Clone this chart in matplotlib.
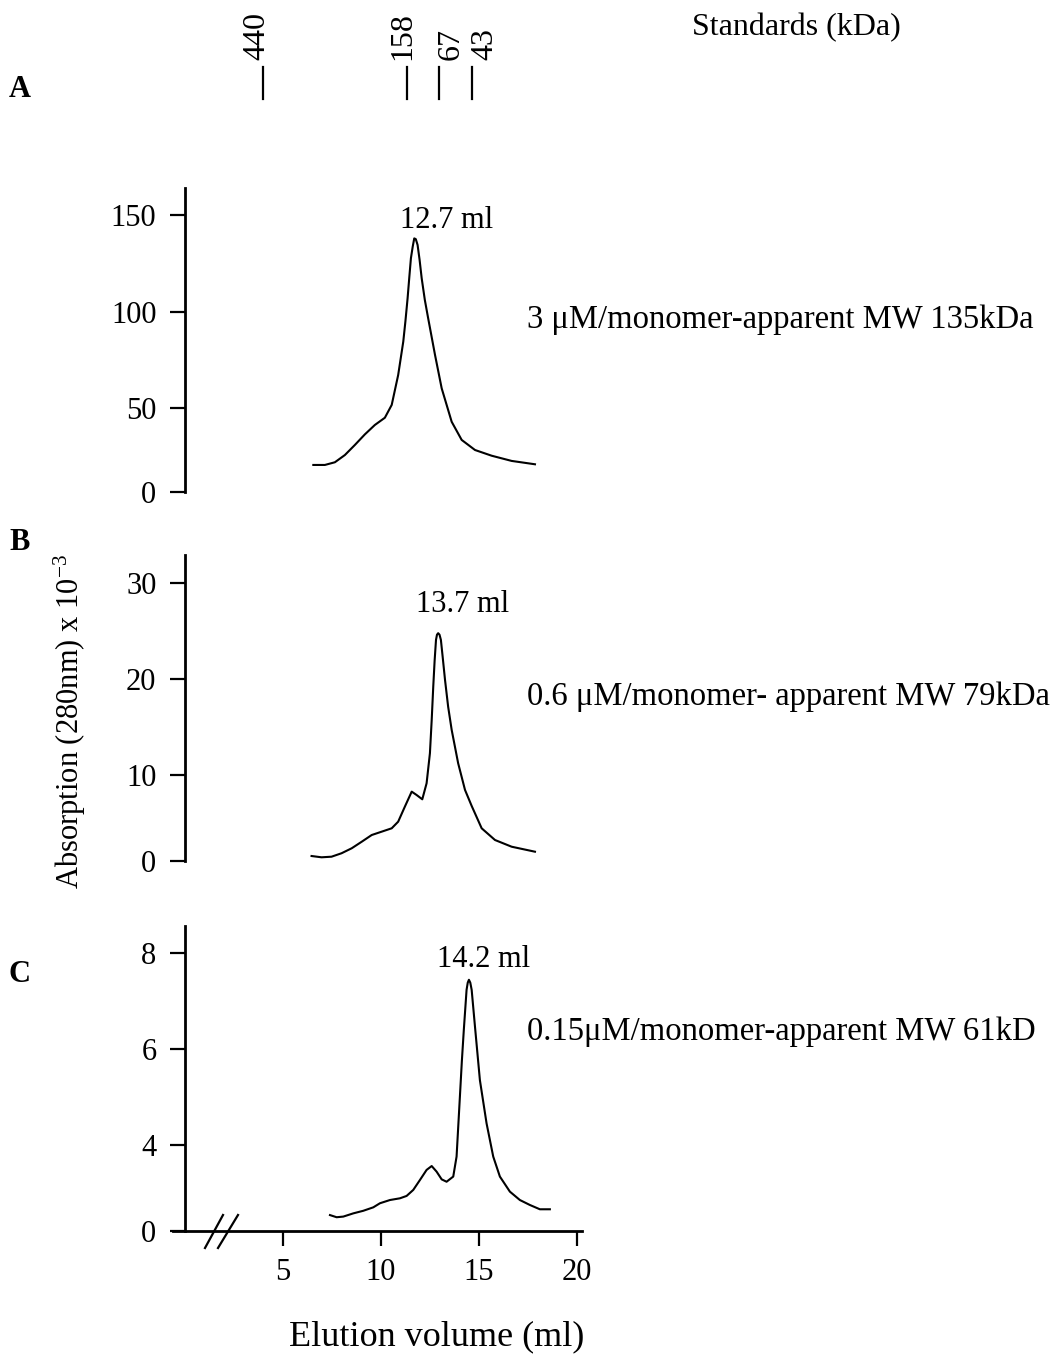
import numpy as np
import matplotlib
matplotlib.use("Agg")
import matplotlib.pyplot as plt
import matplotlib.transforms as mtransforms
from matplotlib.lines import Line2D

plt.rcParams['font.family'] = ['Liberation Serif', 'DejaVu Serif']
plt.rcParams['mathtext.fontset'] = 'custom'
plt.rcParams['mathtext.rm'] = 'Liberation Serif'
plt.rcParams['mathtext.it'] = 'Liberation Serif:italic'
plt.rcParams['mathtext.bf'] = 'Liberation Serif:bold'

# ---------------- data ----------------
vol_a = [6.55, 7.14, 7.65, 8.16, 8.67, 9.18, 9.69, 10.20, 10.55, 10.88, 11.14, 11.25,
         11.36, 11.45, 11.53, 11.62, 11.70, 11.78, 11.87, 11.97, 12.08, 12.24, 12.41,
         12.76, 13.10, 13.61, 14.12, 14.80, 15.65, 16.67, 17.86]
abs_a = [16.1, 16.1, 17.7, 22.0, 28.0, 34.3, 39.9, 44.2, 51.6, 67.1, 84.4, 95.0,
         106.8, 118.0, 127.6, 133.5, 137.9, 137.5, 134.5, 127.0, 117.2, 106.0, 96.5,
         77.5, 60.2, 41.8, 31.0, 25.0, 21.6, 18.5, 16.5]

vol_b = [6.46, 6.97, 7.48, 7.99, 8.51, 9.02, 9.53, 10.04, 10.55, 10.88, 11.22, 11.57,
         11.82, 12.11, 12.33, 12.50, 12.59, 12.67, 12.74, 12.81, 12.86, 12.92, 12.99,
         13.06, 13.15, 13.27, 13.43, 13.61, 13.94, 14.29, 14.63, 15.14, 15.82, 16.67,
         17.86]
abs_b = [0.58, 0.43, 0.50, 0.90, 1.48, 2.24, 3.02, 3.41, 3.80, 4.57, 6.31, 8.06,
         7.67, 7.17, 9.03, 12.26, 15.7, 19.20, 21.9, 24.06, 24.6, 24.76, 24.6,
         24.06, 22.3, 19.90, 17.1, 14.69, 11.22, 8.26, 6.40, 3.80, 2.44, 1.66,
         1.08]

vol_c = [7.40, 7.74, 8.08, 8.59, 9.10, 9.61, 9.95, 10.46, 10.97, 11.31, 11.65, 11.99,
         12.33, 12.59, 12.84, 13.10, 13.35, 13.69, 13.86, 14.03, 14.13, 14.23, 14.37,
         14.43, 14.49, 14.56, 14.63, 14.80, 15.05, 15.39, 15.73, 16.07, 16.58, 17.09,
         17.60, 18.11, 18.62]
abs_c = [0.74, 0.64, 0.67, 0.82, 0.94, 1.10, 1.29, 1.44, 1.52, 1.63, 1.91, 2.37,
         2.84, 3.02, 2.76, 2.40, 2.29, 2.53, 3.46, 5.01, 5.75, 6.40, 7.23,
         7.38, 7.44, 7.38, 7.23, 6.46, 5.35, 4.45, 3.46, 2.53, 1.83, 1.44,
         1.21, 1.01, 1.01]

std_vol = [3.98, 11.33, 12.96, 14.64]
std_kda = ['440', '158', '67', '43']

yticks_a = [0, 50, 100, 150]
yticks_b = [0, 10, 20, 30]
yticks_c = [0, 4, 6, 8]
xticks_c = [5, 10, 15, 20]

peak_labels = ['12.7 ml', '13.7 ml', '14.2 ml']
cond_labels = ['3 \u03bcM/monomer-apparent MW 135kDa',
               '0.6 \u03bcM/monomer- apparent MW 79kDa',
               '0.15\u03bcM/monomer-apparent MW 61kD']
panel_letters = ['A', 'B', 'C']

# ---------------- layout ----------------
W, H = 1063, 1360
fig = plt.figure(figsize=(W / 100, H / 100), dpi=100)


def fx(px):
    return px / W


def fy(py):
    return 1 - py / H


def make_scale(b, k):
    def fwd(y):
        y = np.asarray(y, float)
        return np.where(y < b, y * k, b * k + (y - b))

    def inv(t):
        t = np.asarray(t, float)
        return np.where(t < b * k, t / k, t - b * k + b)
    return fwd, inv


FS = 22
ax_left, ax_right = 173, 582
xlim = (-0.61, 20.26)

# (bottom px, top px, ylim top, break, k)
specs = [
    (492, 188, 164.0, 50, 0.8705),
    (861, 555, 32.9, 10, 0.896),
    (1231, 926, 8.56, 4, 0.448),
]
data = [(vol_a, abs_a, yticks_a), (vol_b, abs_b, yticks_b), (vol_c, abs_c, yticks_c)]

axes = []
for i, ((bot, top, ytop, brk, k), (vx, vy, yt)) in enumerate(zip(specs, data)):
    ax = fig.add_axes([fx(ax_left), fy(bot), (ax_right - ax_left) / W, (bot - top) / H])
    ax.set_yscale('function', functions=make_scale(brk, k))
    ax.plot(vx, vy, color='black', lw=1.5, solid_joinstyle='round')
    ax.set_xlim(*xlim)
    ax.set_ylim(0, ytop)
    ax.set_yticks(yt)
    ax.set_yticklabels([str(t) for t in yt])
    ax.minorticks_off()
    ax.spines['top'].set_visible(False)
    ax.spines['right'].set_visible(False)
    ax.spines['left'].set_position(('data', 0))
    ax.spines['left'].set_linewidth(2.0)
    ax.tick_params(axis='y', direction='out', length=10.5, width=1.6,
                   labelsize=FS, pad=10)
    ax.patch.set_alpha(0)
    if i < 2:
        ax.spines['bottom'].set_visible(False)
        ax.set_xticks([])
    else:
        ax.spines['bottom'].set_linewidth(2.0)
        ax.set_xticks(xticks_c)
        ax.set_xticklabels([str(t) for t in xticks_c])
        ax.tick_params(axis='x', direction='out', length=10.5, width=1.6,
                       labelsize=FS, pad=9)
    axes.append(ax)

# ---------------- standards ----------------
trans = mtransforms.blended_transform_factory(axes[0].transData, fig.transFigure)
label_dx = [-6, -4, 12, 13]  # px offsets of the rotated labels
for v, lab, dx in zip(std_vol, std_kda, label_dx):
    fig.add_artist(Line2D([v, v], [fy(67), fy(99)], transform=trans,
                          color='black', lw=1.6))
    axes[0].annotate(lab, xy=(v, fy(60)), xycoords=trans,
                     xytext=(dx * 0.72, 0), textcoords='offset points',
                     rotation=90, ha='center', va='bottom', fontsize=23)
fig.text(fx(692), fy(35), 'Standards (kDa)', fontsize=23, ha='left', va='baseline')

# ---------------- texts ----------------
letter_y = [97, 550, 982]
for lab, y in zip(panel_letters, letter_y):
    fig.text(fx(9), fy(y), lab, fontsize=22, fontweight='bold', ha='left', va='baseline')

peak_pos = [(447, 228), (463, 612), (484, 967)]
for lab, (x, y) in zip(peak_labels, peak_pos):
    fig.text(fx(x), fy(y), lab, fontsize=FS, ha='center', va='baseline')

cond_y = [328, 705, 1040]
for lab, y in zip(cond_labels, cond_y):
    fig.text(fx(527), fy(y), lab, fontsize=23.5, ha='left', va='baseline')

fig.text(fx(70), fy(722), 'Absorption (280nm) x 10$^{-3}$', fontsize=FS,
         rotation=90, ha='center', va='center')
fig.text(fx(437), fy(1337), 'Elution volume (ml)', fontsize=26, ha='center', va='center')

# axis break marks
for x0, x1 in [(205, 223), (218, 238)]:
    fig.add_artist(Line2D([fx(x0), fx(x1)], [fy(1248), fy(1215)],
                          transform=fig.transFigure, color='black', lw=1.6))

fig.savefig('out.png', dpi=100)
